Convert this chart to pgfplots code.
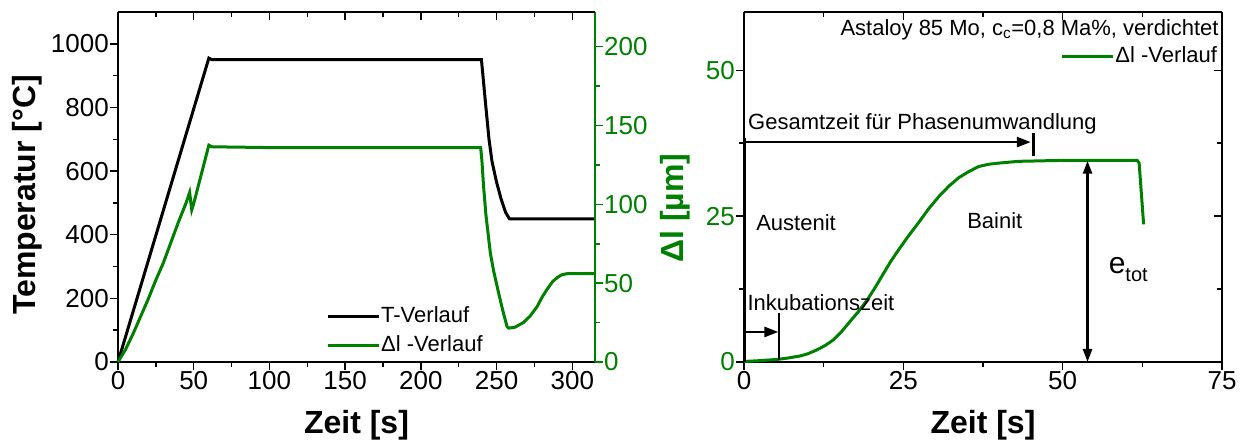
\documentclass[border=0pt]{standalone}
\usepackage{fontspec}
\setmainfont{Liberation Sans}
\usepackage{pgfplots}
\pgfplotsset{compat=1.18}
\usetikzlibrary{arrows.meta}
\definecolor{dlgreen}{RGB}{0,128,0}
\newcommand{\tk}{\fontsize{26pt}{30pt}\selectfont}
\newcommand{\lb}{\fontsize{32pt}{36pt}\selectfont\bfseries}
\newcommand{\an}{\fontsize{22pt}{26pt}\selectfont}

\pgfplotsset{
  base/.style={
    scale only axis, height=350pt,
    tick label style={font=\tk, inner sep=1pt},
    /pgf/number format/assume math mode=true,
    /pgf/number format/1000 sep={},
    scaled ticks=false,
    major tick length=8pt, minor tick length=5pt,
    axis line style={line width=1.8pt},
    every tick/.style={line width=1.5pt, black},
    label style={font=\lb},
    clip=false,
  },
  leg/.style={
    legend cell align=left,
    legend image code/.code={\draw[##1] (0pt,0pt) -- (51pt,0pt);},
    legend style={draw=none, fill=none, inner sep=0pt, row sep=7pt, font=\an,
      nodes={inner sep=1pt, text height=16pt, text depth=4pt}},
  },
}

\begin{document}
\begin{tikzpicture}
% ---------- left panel: temperature ----------
\begin{axis}[base, at={(118pt,79pt)}, width=477pt,
  xmin=0, xmax=315, ymin=0, ymax=1100,
  axis x line*=bottom, axis y line*=left, tick align=outside,
  xtick={0,50,...,300}, minor x tick num=1,
  ytick={0,200,...,1000}, minor y tick num=1,
  xlabel={Zeit [s]}, ylabel={Temperatur [°C]},
  xlabel style={at={(axis description cs:0.5,-0.204)}, anchor=base},
  ylabel style={at={(axis description cs:-0.172,0.477)}, anchor=base},
]
\addplot[black, line width=3pt] coordinates {
  (0,0) (60,955) (62,950) (240,950) (241,900) (242.5,823) (245,700)
  (247,630) (250,565) (253,512) (256,470) (258.5,450) (315,450)
};
\end{axis}
% ---------- left panel: length change ----------
\begin{axis}[base, leg, at={(118pt,79pt)}, width=477pt,
  xmin=0, xmax=315, ymin=0, ymax=222,
  axis x line=none, axis y line*=right, tick align=outside,
  axis line style={dlgreen},
  every tick/.append style={dlgreen},
  yticklabel style={text=dlgreen},
  ytick={0,50,...,200}, minor y tick num=1,
  ylabel={Δl [µm]},
  ylabel style={at={(axis description cs:1.1845,0.44)}, anchor=base, text=dlgreen},
  legend style={at={(axis description cs:0.436,0.163)}, anchor=north west},
]
\addlegendimage{black, line width=3pt}
\addlegendentry{T-Verlauf}
\addplot[dlgreen, line width=3pt] coordinates {
  (0,0) (5,8) (10,18) (15,29) (20,40) (25,52) (30,63) (35,76) (40,89)
  (45,101) (47.3,107.5) (48.7,96.5) (50,100.5) (55,119) (60,137.5)
  (62,136.5) (100,136) (239.5,136) (240.3,128) (241.4,111.6) (243,93)
  (245.9,69) (248,58) (251.3,44) (254,33) (256.9,22.5) (258,21.5)
  (262,22) (267.7,25) (272,29) (276.7,35) (280,41) (283.3,46) (287,51)
  (290,53.5) (293,55.3) (296.5,56) (315,56)
};
\addlegendentry{Δl -Verlauf}
\end{axis}
% top ticks, inward
\begin{axis}[base, at={(118pt,79pt)}, width=477pt,
  xmin=0, xmax=315, ymin=0, ymax=1100,
  axis x line*=top, axis y line=none, tick align=inside,
  xtick={0,50,...,300}, minor x tick num=1, xticklabels={},
]
\end{axis}

% ---------- right panel ----------
\begin{axis}[base, leg, at={(744pt,79pt)}, width=478pt,
  xmin=0, xmax=75, ymin=0, ymax=60,
  axis x line*=bottom, axis y line*=left, tick align=outside,
  xtick={0,25,50,75}, minor x tick num=1,
  ytick={0,25,50}, minor y tick num=1,
  yticklabel style={text=dlgreen},
  xlabel={Zeit [s]},
  xlabel style={at={(axis description cs:0.5,-0.204)}, anchor=base},
  legend style={at={(axis description cs:0.992,0.906)}, anchor=north east},
]
\addplot[dlgreen, line width=3pt] coordinates {
  (0,0.1) (2,0.2) (4,0.35) (5.4,0.46) (7,0.7) (8.8,1.03) (10,1.4)
  (11.4,2.06) (12.7,2.8) (14,3.77) (15.3,5.2) (16.6,6.9) (18,8.7)
  (19.3,10.6) (20.6,12.8) (21.9,15.2) (23,17.2) (24.3,19.3) (25.8,21.6)
  (27.4,23.9) (29,26.3) (30.6,28.4) (32.2,30.2) (33.7,31.6) (35.2,32.6)
  (36.8,33.5) (38.4,33.9) (40,34.1) (43.1,34.4) (49.4,34.55)
  (61.7,34.55) (62,34.1) (62.7,23.6)
};
\addlegendentry{Δl -Verlauf}
\draw[line width=3pt] (axis cs:0,0) -- (axis cs:0,38.4);
\draw[line width=2.5pt, -{Triangle[length=14pt,width=10pt]}] (axis cs:0,37.7) -- (axis cs:45,37.7);
\draw[line width=2.5pt] (axis cs:45.4,35.3) -- (axis cs:45.4,39.3);
\draw[line width=2.5pt, -{Triangle[length=14pt,width=10pt]}] (axis cs:0,5.15) -- (axis cs:5.4,5.15);
\draw[line width=2.5pt] (axis cs:5.5,0.4) -- (axis cs:5.5,8.4);
\draw[line width=2.5pt, {Triangle[length=13pt,width=9pt]}-{Triangle[length=13pt,width=9pt]}] (axis cs:53.9,0) -- (axis cs:53.9,34.5);
\node[font=\an, anchor=base east, inner sep=0pt] at (axis cs:74.5,56.05) {Astaloy 85 Mo, c\textsubscript{c}=0,8 Ma\%, verdichtet};
\node[font=\an, anchor=base west, inner sep=0pt] at (axis cs:0.63,39.9) {Gesamtzeit für Phasenumwandlung};
\node[font=\an, anchor=base west, inner sep=0pt] at (axis cs:1.9,22.5) {Austenit};
\node[font=\an, anchor=base west, inner sep=0pt] at (axis cs:35,22.8) {Bainit};
\node[font=\an, anchor=base west, inner sep=0pt] at (axis cs:0.52,8.8) {Inkubationszeit};
\node[font=\fontsize{30pt}{34pt}\selectfont, anchor=base west, inner sep=0pt] at (axis cs:57.2,15.2) {e\fontsize{20pt}{24pt}\selectfont\raisebox{-8pt}{tot}};
\end{axis}
% top and right ticks, inward
\begin{axis}[base, at={(744pt,79pt)}, width=478pt,
  xmin=0, xmax=75, ymin=0, ymax=60,
  axis x line*=top, axis y line*=right, tick align=inside,
  xtick={0,25,50,75}, minor x tick num=1, xticklabels={},
  ytick={0,25,50}, minor y tick num=1, yticklabels={},
]
\end{axis}
\pgfresetboundingbox
\path (0,0) rectangle (1242pt,441pt);
\end{tikzpicture}
\end{document}
